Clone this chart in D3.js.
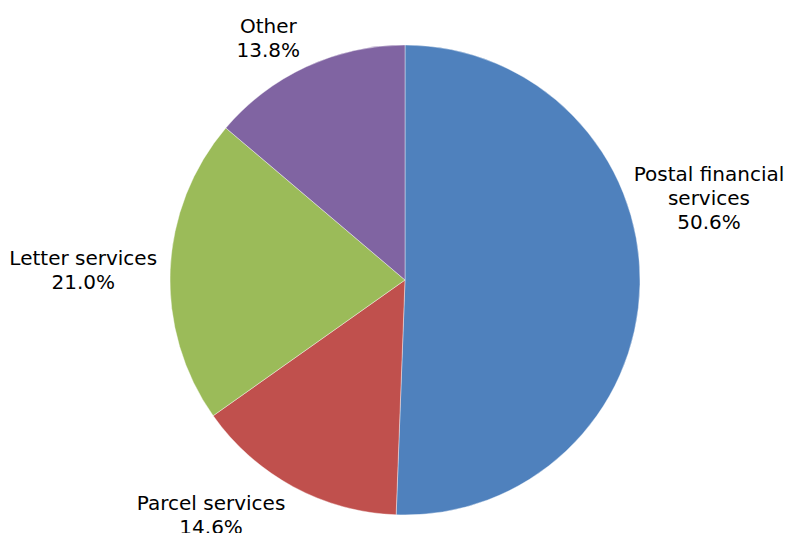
<!DOCTYPE html>
<html>
<head>
<meta charset="utf-8">
<script src="https://cdn.jsdelivr.net/npm/d3@7"></script>
<style>
  html, body { margin: 0; padding: 0; background: #ffffff; }
  svg { display: block; }
</style>
</head>
<body>
<svg id="chart" width="785" height="533"></svg>
<script>
// Revenue share by business line
const categories = ["Postal financial services", "Parcel services", "Letter services", "Other"];
const shares = [50.6, 14.6, 21.0, 13.8];
const labelLines = [["Postal financial", "services"], ["Parcel services"], ["Letter services"], ["Other"]];
const colors = ["#4F81BD", "#C0504D", "#9BBB59", "#8064A2"];

const width = 785, height = 533;
const cx = 405, cy = 280, radius = 235;
const fontSize = 20, lineHeight = 24;

// Label placement relative to the point on the rim at each slice's mid-angle
const labelNudge = {
  "Postal financial services": { dx: 69, dy: -103 },
  "Parcel services": { dx: -82, dy: 23 },
  "Letter services": { dx: -87, dy: -5 },
  "Other": { dx: -38, dy: -34 }
};

const data = categories.map((c, i) => ({ name: c, value: shares[i], lines: labelLines[i], color: colors[i] }));

const svg = d3.select("#chart");
const g = svg.append("g").attr("transform", `translate(${cx},${cy})`);

const pie = d3.pie().value(d => d.value).sort(null);
const arc = d3.arc().innerRadius(0).outerRadius(radius);
const arcs = pie(data);

g.selectAll("path.slice")
  .data(arcs)
  .enter().append("path")
  .attr("class", "slice")
  .attr("d", arc)
  .attr("fill", d => d.data.color)
  .attr("stroke", "#ffffff")
  .attr("stroke-width", 0.4);

const labels = g.selectAll("text.label")
  .data(arcs)
  .enter().append("text")
  .attr("class", "label")
  .attr("font-family", "'DejaVu Sans', Verdana, sans-serif")
  .attr("font-size", fontSize)
  .attr("fill", "#000000")
  .attr("text-anchor", "middle")
  .attr("transform", d => {
    const mid = (d.startAngle + d.endAngle) / 2;
    const x = Math.sin(mid) * radius + labelNudge[d.data.name].dx;
    const y = -Math.cos(mid) * radius + labelNudge[d.data.name].dy;
    return `translate(${x},${y})`;
  });

labels.each(function(d) {
  const t = d3.select(this);
  const lines = d.data.lines.concat([d3.format(".1f")(d.data.value) + "%"]);
  lines.forEach((ln, i) => {
    t.append("tspan").attr("x", 0).attr("y", i * lineHeight).text(ln);
  });
});
</script>
</body>
</html>
